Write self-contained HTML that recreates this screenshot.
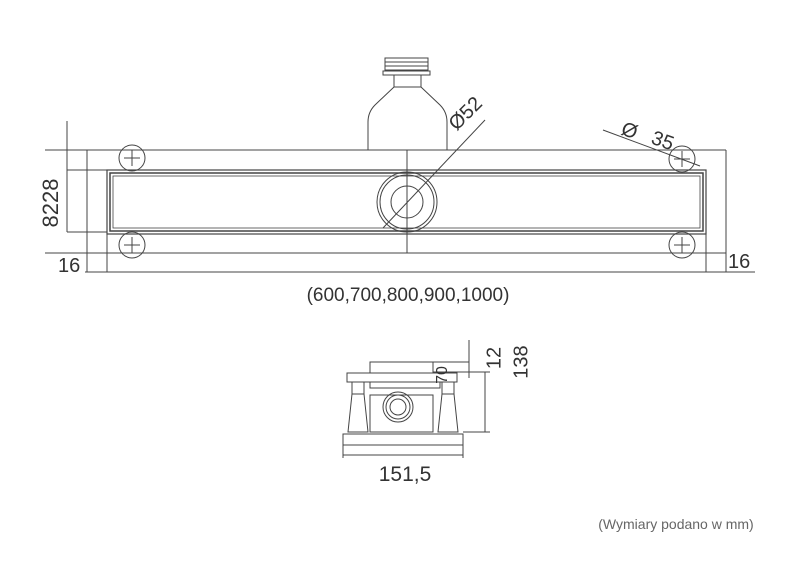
<!DOCTYPE html>
<html><head><style>
html,body{margin:0;padding:0;background:#fff;}
svg{display:block;}
text{font-family:"Liberation Sans",sans-serif;fill:#333;}
</style></head><body>
<svg width="800" height="566" viewBox="0 0 800 566" xmlns="http://www.w3.org/2000/svg">
<g fill="none" stroke="#444" stroke-width="1">
<line x1="45" y1="150" x2="726" y2="150"/>
<line x1="45" y1="253" x2="726" y2="253"/>
<line x1="87" y1="150" x2="87" y2="272"/>
<line x1="107" y1="172" x2="107" y2="272"/>
<line x1="706" y1="172" x2="706" y2="272"/>
<line x1="726" y1="150" x2="726" y2="272"/>
<line x1="85" y1="272" x2="755" y2="272"/>
<rect x="107" y="170" width="599" height="64" stroke-width="1.2"/>
<rect x="110" y="173" width="593" height="58" stroke-width="1.5"/>
<rect x="113" y="176" width="587" height="52" stroke-width="0.8"/>
<line x1="407" y1="150" x2="407" y2="253"/>
<circle cx="407" cy="202" r="30"/>
<circle cx="407" cy="202" r="27"/>
<circle cx="407" cy="202" r="16"/>
<line x1="383" y1="228" x2="485" y2="120"/>
<rect x="385" y="58" width="43" height="4"/>
<rect x="385" y="62" width="43" height="4"/>
<rect x="385" y="66" width="43" height="4"/>
<rect x="383" y="71" width="47" height="4"/>
<line x1="394" y1="75" x2="394" y2="87"/>
<line x1="421" y1="75" x2="421" y2="87"/>
<path d="M394 87 L421 87 L440 105 Q447 112 447 122 L447 150"/>
<path d="M394 87 L375 105 Q368 112 368 122 L368 150"/>
<circle cx="132" cy="158" r="13"/><line x1="124" y1="158" x2="140" y2="158"/><line x1="132" y1="150" x2="132" y2="166"/>
<circle cx="132" cy="245" r="13"/><line x1="124" y1="245" x2="140" y2="245"/><line x1="132" y1="237" x2="132" y2="253"/>
<circle cx="682" cy="159" r="13"/><line x1="674" y1="159" x2="690" y2="159"/><line x1="682" y1="151" x2="682" y2="167"/>
<circle cx="682" cy="245" r="13"/><line x1="674" y1="245" x2="690" y2="245"/><line x1="682" y1="237" x2="682" y2="253"/>
<line x1="603" y1="130" x2="700" y2="166"/>
<line x1="67" y1="121" x2="67" y2="232"/>
<line x1="67" y1="232" x2="107" y2="232"/>
<line x1="67" y1="170" x2="107" y2="170"/>
<rect x="343" y="434" width="120" height="11"/>
<rect x="370" y="362" width="63" height="11"/>
<line x1="433" y1="362" x2="469" y2="362"/>
<line x1="433" y1="372" x2="490" y2="372"/>
<rect x="347" y="373" width="110" height="9"/>
<rect x="370" y="382" width="70" height="6"/>
<rect x="370" y="395" width="63" height="37"/>
<circle cx="398" cy="407" r="15"/><circle cx="398" cy="407" r="12"/><circle cx="398" cy="407" r="8"/>
<rect x="352" y="382" width="12" height="12"/>
<path d="M352 394 L364 394 L368 432 L348 432 Z"/>
<rect x="442" y="382" width="12" height="12"/>
<path d="M442 394 L454 394 L458 432 L438 432 Z"/>
<line x1="469" y1="340" x2="469" y2="378"/>
<line x1="485" y1="372" x2="485" y2="432"/>
<line x1="463" y1="432" x2="490" y2="432"/>
<line x1="343" y1="445" x2="343" y2="458"/>
<line x1="463" y1="445" x2="463" y2="458"/>
<line x1="343" y1="455" x2="463" y2="455"/>
</g>
<text x="470" y="118" font-size="20" transform="rotate(-45 470 118)" text-anchor="middle">Ø52</text>
<text x="620" y="134" font-size="20" transform="rotate(20 620 134)">Ø</text>
<text x="650" y="143" font-size="20" transform="rotate(20 650 143)">35</text>
<text x="52" y="203" font-size="22" transform="rotate(-90 52 203)" text-anchor="middle" dominant-baseline="middle">8228</text>
<text x="58" y="272" font-size="20">16</text>
<text x="728" y="268" font-size="20">16</text>
<text x="408" y="301" font-size="19" text-anchor="middle">(600,700,800,900,1000)</text>
<text x="443" y="375" font-size="16" transform="rotate(-90 443 375)" text-anchor="middle" dominant-baseline="middle">70</text>
<text x="495" y="358" font-size="20" transform="rotate(-90 495 358)" text-anchor="middle" dominant-baseline="middle">12</text>
<text x="522" y="362" font-size="20" transform="rotate(-90 522 362)" text-anchor="middle" dominant-baseline="middle">138</text>
<text x="405" y="481" font-size="21" text-anchor="middle">151,5</text>
<text x="676" y="529" font-size="14" text-anchor="middle" style="fill:#666">(Wymiary podano w mm)</text>
</svg>
</body></html>
